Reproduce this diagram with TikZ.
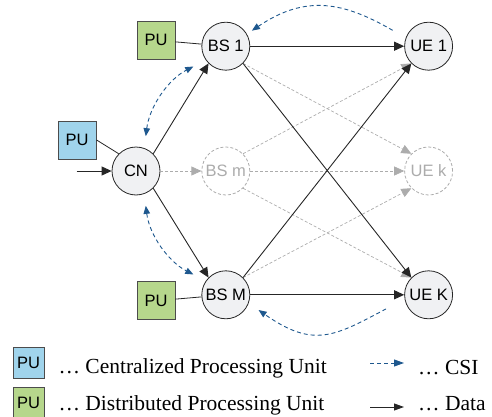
\documentclass[tikz,border=0pt]{standalone}
\usepackage{fontspec}
\setmainfont{Liberation Serif}
\setsansfont{Liberation Sans}
\usetikzlibrary{arrows.meta,positioning}
\definecolor{cpublue}{RGB}{160,212,236}
\definecolor{dpugreen}{RGB}{182,215,140}
\definecolor{csiblue}{RGB}{30,88,142}
\definecolor{ghostgray}{RGB}{172,172,172}
\definecolor{nodefill}{RGB}{240,241,243}
\tikzset{
	bsnode/.style={circle, draw=black!85, line width=0.8pt, fill=nodefill, minimum size=48pt,
		inner sep=0pt, font=\sffamily\fontsize{16.5}{18}\selectfont},
	ghostnode/.style={bsnode, draw=ghostgray, fill=white, dash pattern=on 3pt off 2pt, text=ghostgray},
	pubox/.style={rectangle, draw=black!70, line width=0.8pt, minimum size=38pt, inner sep=0pt,
		font=\sffamily\fontsize{16.5}{18}\selectfont},
	cenpu/.style={pubox, fill=cpublue},
	dispu/.style={pubox, fill=dpugreen},
	pulink/.style={draw=black!85, line width=0.8pt},
	datarr/.style={-{Triangle[length=10pt,width=9pt]}, line width=0.9pt, black!85},
	ghostarr/.style={-{Triangle[length=10pt,width=9pt]}, line width=0.7pt, ghostgray, dash pattern=on 3pt off 2pt},
	csiarr/.style={-{Triangle[length=8pt,width=6.5pt]}, line width=0.9pt, csiblue, dash pattern=on 4pt off 3pt},
	csiboth/.style={csiarr, {Triangle[length=8pt,width=6.5pt]}-{Triangle[length=8pt,width=6.5pt]}},
	legtext/.style={font=\fontsize{21.5}{24}\selectfont, inner sep=1pt}
}

\begin{document}
\begin{tikzpicture}[x=1pt, y=1pt]
	\useasboundingbox (0,0) rectangle (492,416);
	\node[bsnode] (cn) at (136,245) {CN};
	\node[ghostnode, right=41pt of cn] (bsm) {BS m};
	\node[bsnode, above=76pt of bsm] (bs1) {BS 1};
	\node[bsnode, below=75pt of bsm] (bsM) {BS M};
	\node[ghostnode, right=154pt of bsm] (uek) {UE k};
	\node[bsnode, right=154pt of bs1] (ue1) {UE 1};
	\node[bsnode, right=154pt of bsM] (ueK) {UE K};
	\node[dispu, left=26pt of bs1, yshift=6pt] (pu1) {PU};
	\node[dispu, left=26pt of bsM, yshift=-6pt] (puM) {PU};
	\node[cenpu, left=15pt of cn, yshift=31pt] (pucn) {PU};
	\coordinate[left=35pt of cn] (datain);

	\draw[pulink] (pu1) -- (bs1);
	\draw[pulink] (puM) -- (bsM);
	\draw[pulink] (pucn.east) -- (cn.135);

	\draw[ghostarr] (cn) -- (bsm);
	\draw[ghostarr] (bs1.south east) -- (uek.north west);
	\draw[ghostarr] (bsm.north east) -- (ue1.south west);
	\draw[ghostarr] (bsm) -- (uek);
	\draw[ghostarr] (bsm.south east) -- (ueK.north west);
	\draw[ghostarr] (bsM.north east) -- (uek.south west);

	\draw[datarr] (datain) -- (cn);
	\draw[datarr] (cn.north east) -- (bs1.south west);
	\draw[datarr] (cn.south east) -- (bsM.north west);
	\draw[datarr] (bs1) -- (ue1);
	\draw[datarr] (bs1.south east) -- (ueK.north west);
	\draw[datarr] (bsM.north east) -- (ue1.south west);
	\draw[datarr] (bsM) -- (ueK);

	\draw[csiboth, shorten <=12pt, shorten >=14pt] (cn.70) to[out=83, in=207] (bs1.215);
	\draw[csiboth, shorten <=12pt, shorten >=14pt] (cn.-70) to[out=-83, in=153] (bsM.145);
	\draw[csiarr, shorten <=15pt, shorten >=6pt] (ue1.160) to[out=150, in=34, looseness=1.15] (bs1.30);
	\draw[csiarr, shorten <=21pt, shorten >=12pt] (ueK.190) to[out=208, in=-35, looseness=1.3] (bsM.-20);

	% legend
	\node[cenpu, minimum size=31pt] (legcen) at (28.5,53) {PU};
	\node[dispu, minimum size=31pt, below=8pt of legcen] (legdis) {PU};
	\node[legtext, right=13pt of legcen, yshift=-5pt] (legcentxt) {… Centralized Processing Unit};
	\node[legtext, right=13pt of legdis, yshift=-2.5pt] (legdistxt) {… Distributed Processing Unit};
	\node[legtext, anchor=base west] (legcsitxt) at (417,42) {… CSI};
	\node[legtext, anchor=base west] (legdattxt) at (417,6) {… Data};
	\coordinate (csistart) at (370,53);
	\coordinate[right=34pt of csistart] (csiend);
	\coordinate (datstart) at (370,9);
	\coordinate[right=34pt of datstart] (datend);
	\draw[csiarr, -{Triangle[length=10pt,width=7pt]}] (csistart) -- (csiend);
	\draw[datarr, -{Triangle[length=10pt,width=7pt]}] (datstart) -- (datend);
\end{tikzpicture}
\end{document}
